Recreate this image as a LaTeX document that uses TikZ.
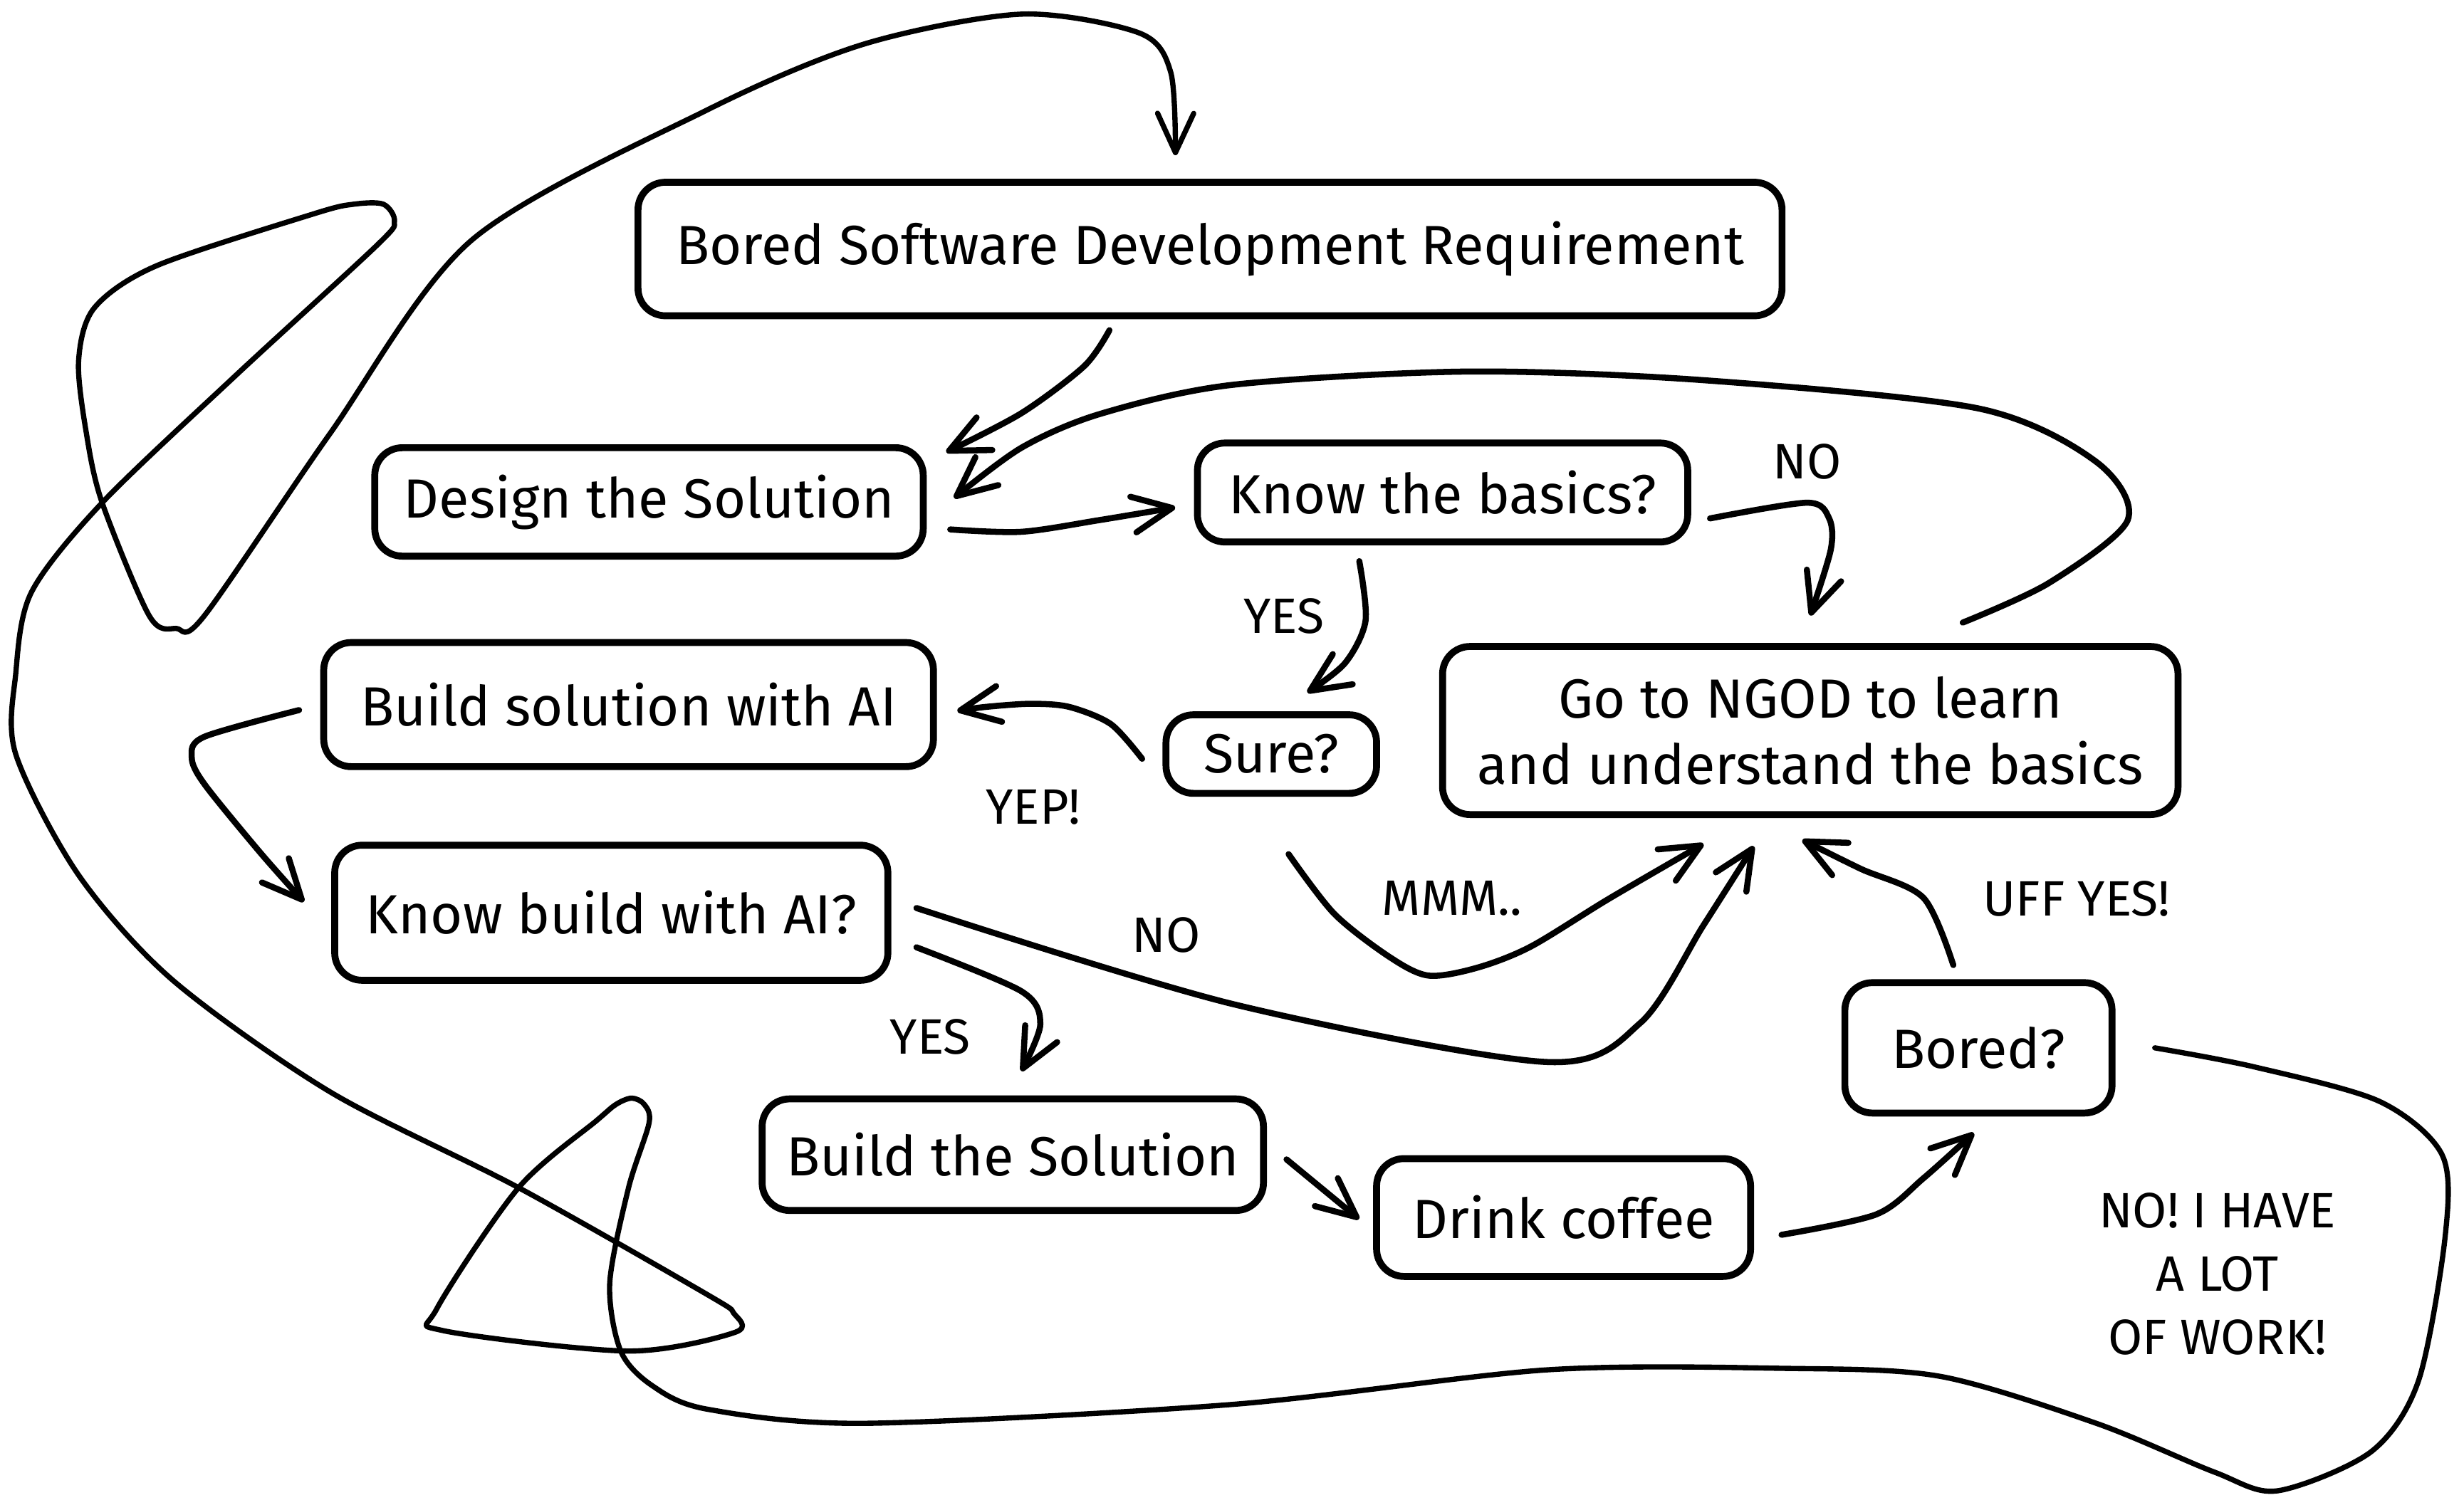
\documentclass[tikz,border=0pt]{standalone}
\usepackage{fontspec}
\setmainfont{Fira Sans}
\usetikzlibrary{arrows.meta}
\tikzstyle{box} = [rectangle, rounded corners=3.5mm, draw=black, line width=2.5pt, align=center, inner sep=1.5mm, font=\fontsize{20}{24}\selectfont]
\tikzstyle{answer} = [align=center, inner sep=0pt, font=\fontsize{18}{23}\selectfont]
\tikzstyle{flow} = [line width=2.2pt, line cap=round, line join=round, ->, >={Straight Barb[length=5mm, width=4.6mm, round]}]
\tikzstyle{loopback} = [flow, line width=1.9pt]

\begin{document}
\begin{tikzpicture}[x=0.2mm, y=0.2mm]
\useasboundingbox (0,0) rectangle (1568,-961);

\node (req) [box, minimum width=145.6mm, minimum height=17mm] at (770,-158.5) {Bored Software Development Requirement};
\node (design) [box, minimum width=69.8mm, minimum height=13.8mm] at (413,-319.5) {Design the Solution};
\node (basics) [box, minimum width=62.4mm, minimum height=12.6mm] at (918,-313.5) {Know the basics?};
\node (ngod) [box, minimum width=93.6mm, minimum height=21.4mm] at (1152,-465) {Go to NGOD to learn\\and understand the basics};
\node (buildai) [box, minimum width=77.6mm, minimum height=15.8mm] at (400,-448.5) {Build solution with AI};
\node (sure) [box, minimum width=26.8mm, minimum height=10mm] at (809,-480) {Sure?};
\node (knowai) [box, minimum width=70.4mm, minimum height=17.2mm] at (389,-581) {Know build with AI?};
\node (build) [box, minimum width=63.8mm, minimum height=14.2mm] at (644.5,-735) {Build the Solution};
\node (coffee) [box, minimum width=47.6mm, minimum height=15mm] at (995,-775) {Drink coffee};
\node (bored) [box, minimum width=34mm, minimum height=16.6mm] at (1259,-667) {Bored?};

\node (no1) [answer] at (1150,-294) {NO};
\node (yes1) [answer] at (817,-392) {YES};
\node (yep) [answer] at (657.6,-514) {YEP!};
\node (mmm) [answer] at (924,-572) {MMM..};
\node (no2) [answer] at (742,-595) {NO};
\node (yes2) [answer] at (592,-660) {YES};
\node (uff) [answer] at (1321.5,-572) {UFF YES!};
\node (nowork) [answer] at (1411,-811) {NO! I HAVE\\A LOT\\OF WORK!};

\draw [flow] plot [smooth] coordinates {([xshift=-12.8mm, yshift=-1.4mm]req.south) (690,-233) (650,-263) ([xshift=2.5mm, yshift=-1mm]design.north east)};
\draw [flow] plot [smooth] coordinates {([xshift=19.4mm, yshift=2.6mm]ngod.north) (1304,-371) (1354,-331) (1334,-294) (1259,-260) (1084,-242) (934,-236.5) (784,-245) (700,-263.5) (650,-285) ([xshift=3.5mm, yshift=0.5mm]design.east)};
\draw [flow] plot [smooth] coordinates {([xshift=3mm, yshift=-3.5mm]design.east) (650,-338.5) (700,-331) ([xshift=-2.4mm, yshift=-1.9mm]basics.west)};
\draw [flow] plot [smooth] coordinates {([xshift=2.4mm, yshift=-3.3mm]basics.east) (1150,-320) (1164,-330) (1165,-350) ([yshift=3.5mm]ngod.north)};
\draw [flow] plot [smooth] coordinates {([xshift=-10.6mm, yshift=-2mm]basics.south) (869,-395) (856,-422) ([xshift=4.6mm, yshift=2.4mm]sure.north)};
\draw [flow] plot [smooth] coordinates {([xshift=-2.6mm, yshift=-0.6mm]sure.west) (707,-461) (680.5,-450) (655.8,-448) (627,-450) ([xshift=2.6mm, yshift=-0.8mm]buildai.east)};
\draw [flow] plot [smooth] coordinates {([xshift=-2.7mm, yshift=-0.7mm]buildai.west) (130,-469) (122,-482) (130,-499) (165,-542) ([xshift=-3.5mm, yshift=1.4mm]knowai.west)};
\draw [flow] plot [smooth] coordinates {([xshift=2.2mm, yshift=-7.3mm]sure.south) (849,-581.6) (884,-609) (909,-621) (940,-616) (974,-602.6) (1024,-572) ([xshift=-13.6mm, yshift=-3.3mm]ngod.south)};
\draw [flow] plot [smooth] coordinates {([xshift=3.2mm, yshift=0.6mm]knowai.east) (784,-639) (984,-676) (1044,-651) (1084,-589) ([xshift=-7.2mm, yshift=-3.6mm]ngod.south)};
\draw [flow] plot [smooth] coordinates {([xshift=3.2mm, yshift=-4.4mm]knowai.east) (650,-631) (662,-652) ([xshift=1.1mm, yshift=3.1mm]build.north)};
\draw [flow] ([xshift=2.5mm, yshift=-0.6mm]build.east) -- ([xshift=-1.8mm, yshift=-0.2mm]coffee.west);
\draw [flow] plot [smooth] coordinates {([xshift=3.5mm, yshift=-2.2mm]coffee.east) (1194,-773) (1224,-750) ([xshift=-0.6mm, yshift=-2.1mm]bored.south)};
\draw [flow] plot [smooth] coordinates {([xshift=-3.2mm, yshift=1.8mm]bored.north) (1224,-571.5) (1184,-553) ([xshift=-1mm, yshift=-2.8mm]ngod.south)};

% the long way back to the start
\draw [loopback] plot [smooth] coordinates {([xshift=5mm]bored.east) (1434,-679) (1514,-701) (1554,-735) (1556,-787) (1539,-879) (1509,-924) (1449,-949) (1409,-937) (1334,-906) (1234,-876) (1134,-871) (984,-872) (784,-894) (550,-906) (450,-897) (415,-882) (395,-860) (388,-817) (400,-756) (413,-715) (410,-703) (402,-699) (392,-703) (380,-713) (330,-756) (278,-833) (282,-847) (400,-860) (468,-848) (467,-836) (450,-824) (330,-756) (210,-695) (110,-624) (50,-557) (10,-480) (10,-429) (20,-377) (65,-320) (150,-239) (240,-156) (251,-141) (244,-130) (225,-130) (200,-136) (100,-169) (60,-196) (50,-230) (55,-276) (65,-320) (95,-392) (112,-400) (130,-392) (210,-276) (300,-153) (450,-70) (550,-28) (650,-9) (725,-21) (745,-46) ([xshift=-4.4mm, yshift=3mm]req.north)};

\end{tikzpicture}
\end{document}
